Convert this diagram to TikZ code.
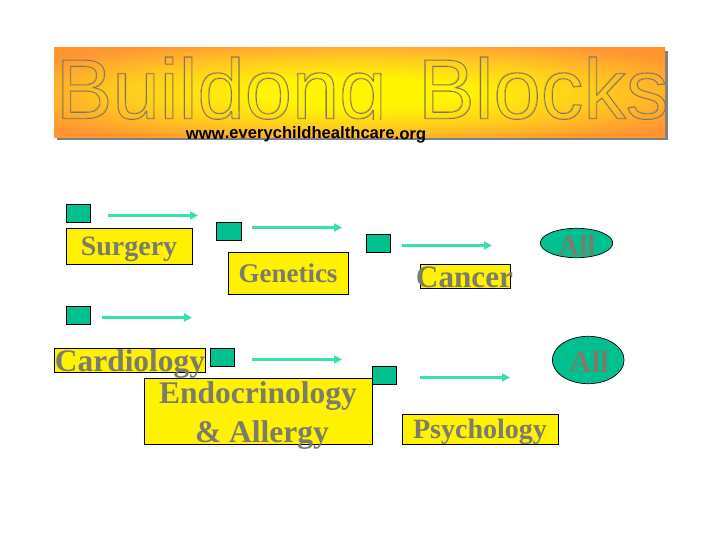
\documentclass[tikz,border=0pt]{standalone}
\usepackage{fontspec}
\setmainfont{Liberation Serif}
\newfontfamily\arialfont{Liberation Sans}
\usetikzlibrary{shapes.geometric,arrows.meta,decorations.text,shadings}
\definecolor{teal1}{RGB}{0,192,144}
\definecolor{arrowc}{RGB}{56,224,176}
\definecolor{labelgray}{RGB}{124,124,108}
\definecolor{bannerorange}{RGB}{255,150,50}
\definecolor{bannermid}{RGB}{255,205,30}
\definecolor{bannercore}{RGB}{255,245,0}
\definecolor{shadowgray}{RGB}{128,128,128}
\definecolor{outlinegray}{RGB}{125,118,95}
\definecolor{outlinelight}{RGB}{190,150,60}
\pgfdeclareradialshading{bannerglow}{\pgfpoint{0bp}{0bp}}{%
  color(0bp)=(bannercore);color(8bp)=(bannercore);color(19bp)=(bannermid);
  color(31bp)=(bannerorange);color(60bp)=(bannerorange)}
\newcommand{\outlinetext}[2]{\special{pdf:code 1 Tr #1 w}#2\special{pdf:code 0 Tr}}
\newcommand{\titletext}{Buildong \hspace*{8pt}Blocks}
\tikzset{
  x=1pt,y=-1pt,
  sq/.style={draw=black,line width=0.7pt,fill=teal1,minimum width=24.4pt,minimum height=18.2pt,inner sep=0pt,outer sep=0pt},
  ybox/.style={draw=black,line width=0.8pt,fill=yellow,inner sep=0pt,outer sep=0pt},
  oval/.style={ellipse,draw=black,line width=0.7pt,fill=teal1,inner sep=0pt,outer sep=0pt},
  lab/.style={anchor=base,inner sep=0pt,text=labelgray,font=\bfseries\fontsize{#1}{#1}\selectfont},
  arr/.style={draw=arrowc,line width=2.2pt,-{Triangle[length=8pt,width=8pt]}},
  titlefont/.style={anchor=base west,inner sep=0pt,font=\arialfont\fontsize{85}{85}\selectfont},
}
\begin{document}
\begin{tikzpicture}
\useasboundingbox (0,0) rectangle (720,540);
% banner
\fill[shadowgray] (57,51) rectangle (668,140.5);
\node[anchor=center,minimum width=611pt,minimum height=90pt,inner sep=0pt,outer sep=0pt,shading=bannerglow] (banner) at (359.5,93) {};
\begin{scope}
\clip (0,0) rectangle (720,119.5);
\node[titlefont,text=outlinelight] (titleb) at (55,118) {\outlinetext{0.4}{\titletext}};
\node[titlefont,text=outlinegray] (title) at (55.7,118.7) {\outlinetext{0.8}{\titletext}};
\end{scope}
\coordinate (urlA) at (184,140);
\coordinate (urlB) at (428,140);
\path[decorate,decoration={text along path,text align=center,text={|\arialfont\bfseries\fontsize{16.6}{16.6}\selectfont|www.everychildhealthcare.org}}]
  (urlA) .. controls (260,137.5) and (350,137.5) .. (urlB);
% squares
\node[sq] (s1) at (78.5,213.3) {};
\node[sq] (s2) at (228.7,231.5) {};
\node[sq] (s3) at (378.5,243.5) {};
\node[sq] (s4) at (78.5,315.7) {};
\node[sq] (s5) at (222.5,357.5) {};
% arrows
\coordinate (a1a) at (108,215.5); \coordinate (a1b) at (198,215.5);
\coordinate (a2a) at (252,227.5); \coordinate (a2b) at (342,227.5);
\coordinate (a3a) at (402,245.5); \coordinate (a3b) at (492,245.5);
\coordinate (a4a) at (102,317.5); \coordinate (a4b) at (192,317.5);
\coordinate (a5a) at (252,359.5); \coordinate (a5b) at (342,359.5);
\coordinate (a6a) at (420,377.5); \coordinate (a6b) at (510,377.5);
\draw[arr] (a1a) -- (a1b);
\draw[arr] (a2a) -- (a2b);
\draw[arr] (a3a) -- (a3b);
\draw[arr] (a4a) -- (a4b);
\draw[arr] (a5a) -- (a5b);
\draw[arr] (a6a) -- (a6b);
% yellow boxes
\node[ybox,minimum width=126.4pt,minimum height=36pt] (surgery) at (129.5,246.3) {};
\node[ybox,minimum width=120.4pt,minimum height=42pt] (genetics) at (288.5,273.3) {};
\node[ybox,minimum width=150.7pt,minimum height=24pt] (cardio) at (129.6,360.3) {};
\node[ybox,minimum width=228pt,minimum height=66pt] (endo) at (258.3,411.3) {};
\node[ybox,minimum width=90.4pt,minimum height=24pt] (cancer) at (465.5,276.3) {};
\node[ybox,minimum width=156.4pt,minimum height=30pt] (psych) at (480.5,429.3) {};
\node[oval,minimum width=72.4pt,minimum height=29.4pt] (all1) at (576.5,243) {};
\node[oval,minimum width=71.7pt,minimum height=47.4pt] (all2) at (588.2,360) {};
\node[sq] (s6) at (384.5,375.5) {};
% labels
\node[lab=28] (tsurgery) at (129,255) {Surgery};
\node[lab=27] (tgenetics) at (288,282) {Genetics};
\node[lab=31.4] (tcardio) at (130,371) {Cardiology};
\node[lab=31.5] (tendo1) at (258,403) {Endocrinology};
\node[lab=31.5] (tendo2) at (262,442) {\&\ Allergy};
\node[lab=31.2] (tcancer) at (464.5,287) {Cancer};
\node[lab=28] (tpsych) at (480,438) {Psychology};
\node[lab=29] (tall1) at (577,255) {All};
\node[lab=31] (tall2) at (589,372) {All};
\end{tikzpicture}
\end{document}
